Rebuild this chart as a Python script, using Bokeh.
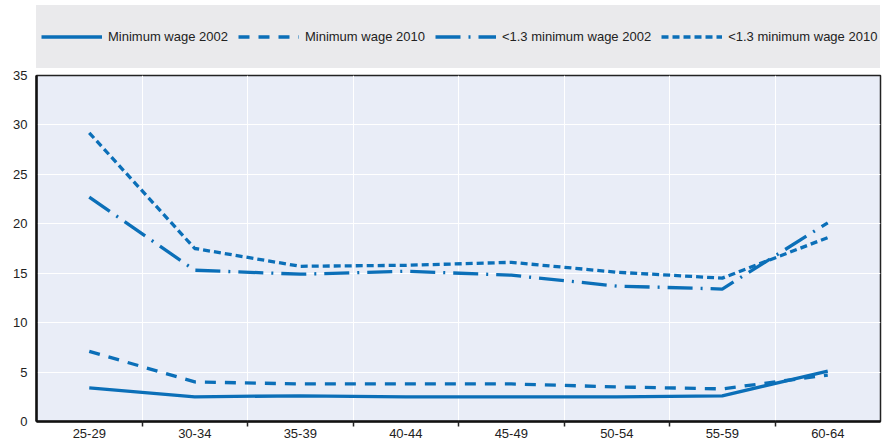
from bokeh.plotting import figure
from bokeh.layouts import column
from bokeh.models import FixedTicker, Legend, LegendItem, Range1d
from bokeh.embed import file_html
from bokeh.resources import INLINE

categories = ["25-29", "30-34", "35-39", "40-44", "45-49", "50-54", "55-59", "60-64"]
min_wage_2002 = [3.4, 2.5, 2.6, 2.5, 2.5, 2.5, 2.6, 5.1]
min_wage_2010 = [7.1, 4.0, 3.8, 3.8, 3.8, 3.5, 3.3, 4.7]
below13_2002 = [22.7, 15.3, 14.9, 15.2, 14.8, 13.7, 13.4, 20.1]
below13_2010 = [29.2, 17.5, 15.7, 15.8, 16.1, 15.1, 14.5, 18.6]
series_names = ["Minimum wage 2002", "Minimum wage 2010",
                "<1.3 minimum wage 2002", "<1.3 minimum wage 2010"]
y_ticks = [0, 5, 10, 15, 20, 25, 30, 35]

FONT = "Liberation Sans"
BLUE = "#0B6FB8"
DASHES = ["solid", "11 9", "25 8 2 8", "7 4"]
series = [min_wage_2002, min_wage_2010, below13_2002, below13_2010]

x = [i + 0.5 for i in range(len(categories))]

# ---------------- main chart ----------------
p = figure(width=882, height=374, output_backend="svg", toolbar_location=None,
           x_range=Range1d(0, len(categories)), y_range=Range1d(0, 35),
           min_border_left=36, min_border_right=2, min_border_top=7, min_border_bottom=21)

p.background_fill_color = "#E9EDF7"
p.border_fill_color = "white"
p.outline_line_color = "#222222"
p.outline_line_width = 1.5

for vals, dash in zip(series, DASHES):
    p.line(x, vals, line_color=BLUE, line_width=3.3, line_dash=dash)

xa = p.xaxis[0]
xa.ticker = FixedTicker(ticks=x, minor_ticks=list(range(1, len(categories))))
xa.major_label_overrides = {xi: c for xi, c in zip(x, categories)}
xa.major_tick_out = 0
xa.major_tick_in = 0
xa.minor_tick_out = 5
xa.minor_tick_in = 0
xa.minor_tick_line_color = "#222222"
xa.minor_tick_line_width = 1.5
xa.axis_line_color = "#111111"
xa.axis_line_width = 2.5
xa.major_label_text_font = FONT
xa.major_label_text_font_size = "13px"
xa.major_label_text_color = "#222222"
xa.major_label_standoff = 2

ya = p.yaxis[0]
ya.ticker = FixedTicker(ticks=y_ticks)
ya.major_tick_out = 0
ya.major_tick_in = 0
ya.minor_tick_line_color = None
ya.axis_line_color = "#111111"
ya.axis_line_width = 2.5
ya.major_label_text_font = FONT
ya.major_label_text_font_size = "13px"
ya.major_label_text_color = "#222222"
ya.major_label_standoff = 9

p.xgrid.ticker = FixedTicker(ticks=list(range(1, len(categories))))
p.xgrid.grid_line_color = "white"
p.xgrid.grid_line_width = 1
p.ygrid.ticker = FixedTicker(ticks=y_ticks)
p.ygrid.grid_line_color = "white"
p.ygrid.grid_line_width = 1

# ---------------- legend strip ----------------
lg = figure(width=882, height=68, output_backend="svg", toolbar_location=None,
            x_axis_type=None, y_axis_type=None,
            x_range=Range1d(0, len(categories)), y_range=Range1d(-20, -10),
            min_border=0)
lg.outline_line_color = None
lg.xgrid.visible = False
lg.ygrid.visible = False
lg.background_fill_color = "white"

items = []
for vals, dash, name in zip(series, DASHES, series_names):
    r = lg.line(x, vals, line_color=BLUE, line_width=3.3, line_dash=dash)
    items.append(LegendItem(label=name, renderers=[r]))

legend = Legend(items=items, orientation="horizontal", location=(-4, 0))
legend.background_fill_color = "#EAEAEC"
legend.background_fill_alpha = 1
legend.border_line_color = "#EAEAEC"
legend.border_line_width = 1
legend.label_text_font = FONT
legend.label_text_font_size = "13px"
legend.label_text_color = "#222222"
legend.glyph_width = 61
legend.glyph_height = 45
legend.label_height = 45
legend.label_standoff = 6
legend.spacing = 10
legend.padding = 8
legend.margin = 0
lg.add_layout(legend, "center")

layout = column(lg, p, spacing=0)
open("out.html", "w").write(file_html(layout, INLINE))
